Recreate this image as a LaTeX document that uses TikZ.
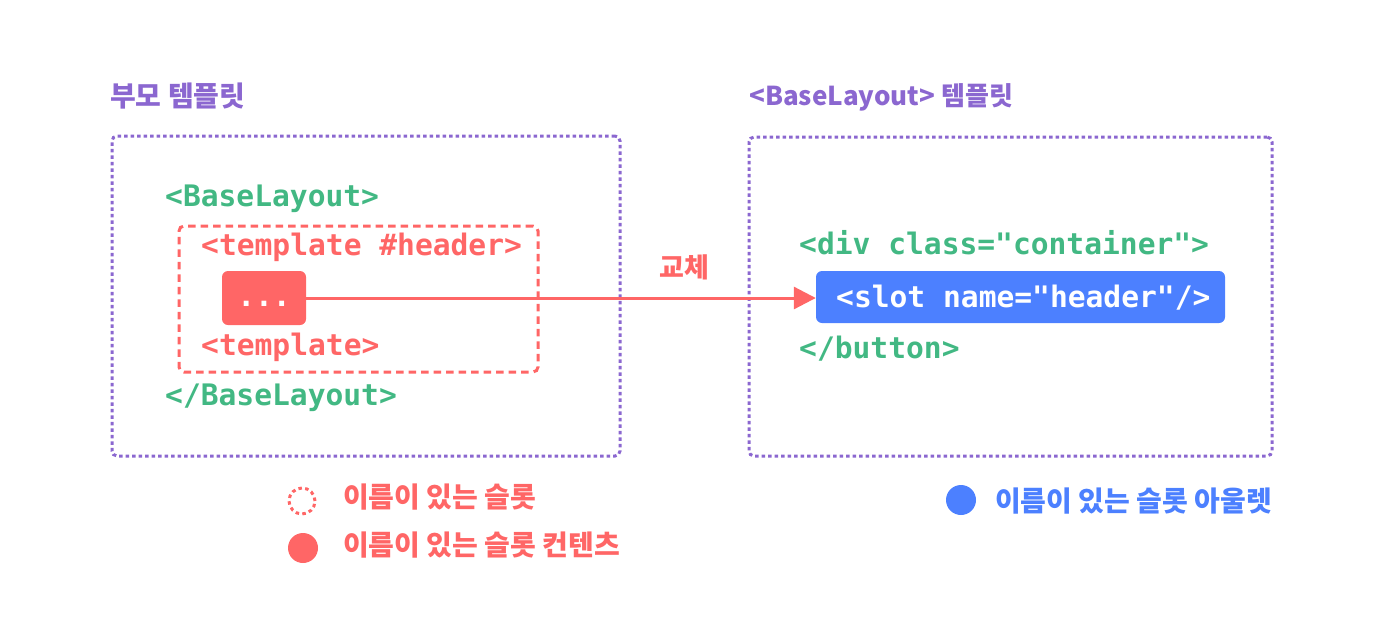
\documentclass[tikz,border=0pt]{standalone}
\usepackage{fontspec}
\usepackage{xcolor}
\usetikzlibrary{arrows.meta}
\newfontfamily\kofont{Noto Sans CJK KR}
\newfontfamily\codefont{DejaVu Sans Mono}
\definecolor{vpurple}{HTML}{8B67D0}
\definecolor{vgreen}{HTML}{42B883}
\definecolor{vred}{HTML}{FF6666}
\definecolor{vblue}{HTML}{4C80FF}

\begin{document}
\begin{tikzpicture}[x=1pt, y=-1pt,
    title/.style={anchor=base west, inner sep=0pt, text=vpurple, font=\kofont\bfseries\fontsize{#1}{30}\selectfont},
    title/.default=28,
    code/.style={anchor=base west, inner sep=0pt, font=\codefont\bfseries\fontsize{29.6}{32}\selectfont},
    legend/.style={anchor=west, inner sep=0pt, font=\kofont\bfseries\fontsize{28}{30}\selectfont},
    frame/.style={draw=vpurple, line width=3pt, dash pattern=on 3.5pt off 3pt, rounded corners=5pt, inner sep=0pt},
    chip/.style={fill=#1, rounded corners=6pt, inner sep=0pt}]
  \useasboundingbox (0,0) rectangle (1376,640);
  % titles
  \node[title] (parenttitle) at (110,106) {부모 템플릿};
  \node[title=26] (childtitle) at (749,105) {<BaseLayout> 템플릿};
  % outer frames
  \node[frame, minimum width=508pt, minimum height=320pt] (parentbox) at (366,296) {};
  \node[frame, minimum width=523pt, minimum height=319pt] (childbox) at (1010.5,296.5) {};
  \node[draw=vred, line width=3pt, dash pattern=on 7.5pt off 5pt, rounded corners=5pt,
        minimum width=359pt, minimum height=146pt, inner sep=0pt] (tplbox) at (358.5,299) {};
  % parent code
  \node[code, text=vgreen] (open) at (165,206) {<BaseLayout>};
  \node[code, text=vred] (tplopen) at (201,255) {<template \#header>};
  \node[chip=vred, minimum width=84pt, minimum height=54pt] (dotsbox) at (264,298) {};
  \node[code, text=white, anchor=base] (dots) at (264,306) {...};
  \node[code, text=vred] (tplclose) at (201,355) {<template>};
  \node[code, text=vgreen] (close) at (165,405) {</BaseLayout>};
  % child code
  \node[code, text=vgreen] (divopen) at (799,254) {<div class="container">};
  \node[chip=vblue, minimum width=409pt, minimum height=52pt] (slot) at (1020.5,297) {};
  \node[code, text=white] (slottext) at (836,307) {<slot name="header"/>};
  \node[code, text=vgreen] (divclose) at (799,358) {</button>};
  % replace arrow
  \draw[vred, line width=3pt, -{Triangle[length=22pt, width=22pt]}] (dotsbox.east) -- (dotsbox.east -| slot.west)
    node[pos=0.743, above=16pt, inner sep=0pt, text=vred, font=\kofont\bfseries\fontsize{27}{30}\selectfont] (swap) {교체};
  % legend
  \node[circle, draw=vred, line width=3pt, dash pattern=on 3.5pt off 3.3pt, minimum size=26pt, inner sep=0pt] (keyslot) at (302,501) {};
  \node[legend, text=vred] (keyslottext) at (343,497) {이름이 있는 슬롯};
  \node[circle, fill=vred, minimum size=30pt, inner sep=0pt] (keycontent) at (303,548) {};
  \node[legend, text=vred] (keycontenttext) at (343,545) {이름이 있는 슬롯 컨텐츠};
  \node[circle, fill=vblue, minimum size=30pt, inner sep=0pt] (keyoutlet) at (961,500) {};
  \node[legend, text=vblue] (keyoutlettext) at (995,501) {이름이 있는 슬롯 아울렛};
\end{tikzpicture}
\end{document}
